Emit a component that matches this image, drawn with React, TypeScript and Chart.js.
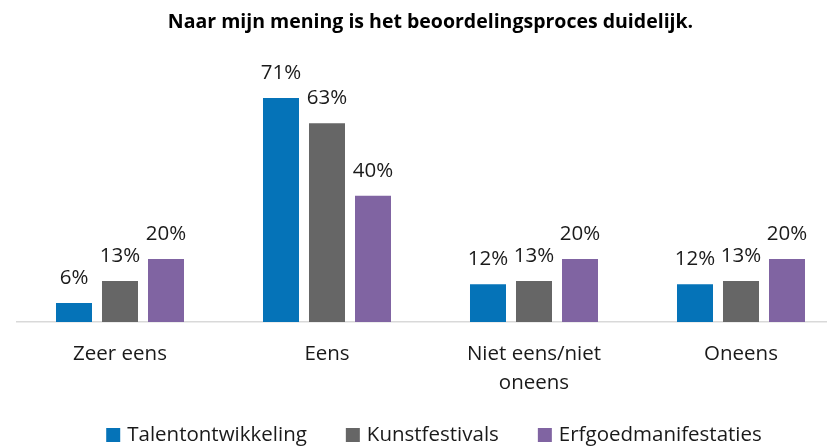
import { useEffect, useRef } from "react";
import { Chart, registerables } from "chart.js";
Chart.register(...registerables);

const categories: string[][] = [["Zeer eens"], ["Eens"], ["Niet eens/niet", "oneens"], ["Oneens"]];
const seriesNames = ["Talentontwikkeling", "Kunstfestivals", "Erfgoedmanifestaties"];
const talentontwikkeling = [6, 71, 12, 12];
const kunstfestivals = [13, 63, 13, 13];
const erfgoedmanifestaties = [20, 40, 20, 20];
const seriesColors = ["#0573B8", "#666666", "#8064A2"];
const titleText = "Naar mijn mening is het beoordelingsproces duidelijk.";

const FONT = "'Open Sans', sans-serif";

const valueLabels = {
  id: "valueLabels",
  afterDatasetsDraw(chart: any) {
    const ctx = chart.ctx;
    ctx.save();
    ctx.font = `20.5px ${FONT}`;
    ctx.fillStyle = "#1a1a1a";
    ctx.textAlign = "center";
    ctx.textBaseline = "middle";
    chart.data.datasets.forEach((ds: any, di: number) => {
      const meta = chart.getDatasetMeta(di);
      meta.data.forEach((bar: any, i: number) => {
        ctx.fillText(`${ds.data[i]}%`, bar.x, bar.y - 25);
      });
    });
    ctx.restore();
  },
};

const bottomLegend = {
  id: "bottomLegend",
  afterDraw(chart: any) {
    const ctx = chart.ctx;
    ctx.save();
    ctx.font = `20.5px ${FONT}`;
    const box = 14;
    const gapText = 7;
    const gapItem = 39;
    const items = chart.data.datasets.map((ds: any) => ({
      text: ds.label,
      color: ds.backgroundColor,
      w: box + gapText + ctx.measureText(ds.label).width,
    }));
    const total = items.reduce((s: number, it: any) => s + it.w, 0) + gapItem * (items.length - 1);
    const cx = (chart.chartArea.left + chart.chartArea.right) / 2 + 3.5;
    const cy = chart.scales.x.bottom + 38;
    let x = cx - total / 2;
    ctx.textAlign = "left";
    ctx.textBaseline = "middle";
    items.forEach((it: any) => {
      ctx.fillStyle = it.color;
      ctx.fillRect(x, cy - box / 2, box, box);
      ctx.fillStyle = "#1a1a1a";
      ctx.fillText(it.text, x + box + gapText, cy);
      x += it.w + gapItem;
    });
    ctx.restore();
  },
};

export default function App() {
  const ref = useRef<HTMLCanvasElement>(null);
  useEffect(() => {
    if (!ref.current) return;
    const chart = new Chart(ref.current, {
      type: "bar",
      data: {
        labels: categories,
        datasets: [talentontwikkeling, kunstfestivals, erfgoedmanifestaties].map((d, i) => ({
          label: seriesNames[i],
          data: d,
          backgroundColor: seriesColors[i],
          categoryPercentage: 0.6667,
          barPercentage: 0.7826,
        })),
      },
      options: {
        animation: false,
        responsive: false,
        layout: { padding: { left: 16.5, right: 16.5, top: 0, bottom: 55 } },
        scales: {
          x: {
            grid: { display: false, drawTicks: false },
            border: { display: true, color: "#D9D9D9", width: 1.5 },
            ticks: { color: "#1a1a1a", font: { family: FONT, size: 20.5, lineHeight: 1.415 }, padding: 17.5, maxRotation: 0 },
            afterFit: (scale: any) => {
              scale.height = 75;
            },
          },
          y: { display: false, min: 0, max: 80 },
        },
        plugins: {
          title: {
            display: true,
            text: titleText,
            color: "#000",
            font: { family: FONT, size: 19.5, weight: "bold", lineHeight: 1.2 },
            padding: { top: 11, bottom: 35.2 },
          },
          legend: { display: false },
          tooltip: { enabled: false },
        },
      },
      plugins: [valueLabels, bottomLegend],
    });
    return () => chart.destroy();
  }, []);
  return (
    <div style={{ position: "fixed", left: 0, top: 0, width: 827, height: 446, overflow: "hidden", background: "#fff" }}>
      <canvas ref={ref} width={861} height={452} style={{ display: "block" }} />
    </div>
  );
}
